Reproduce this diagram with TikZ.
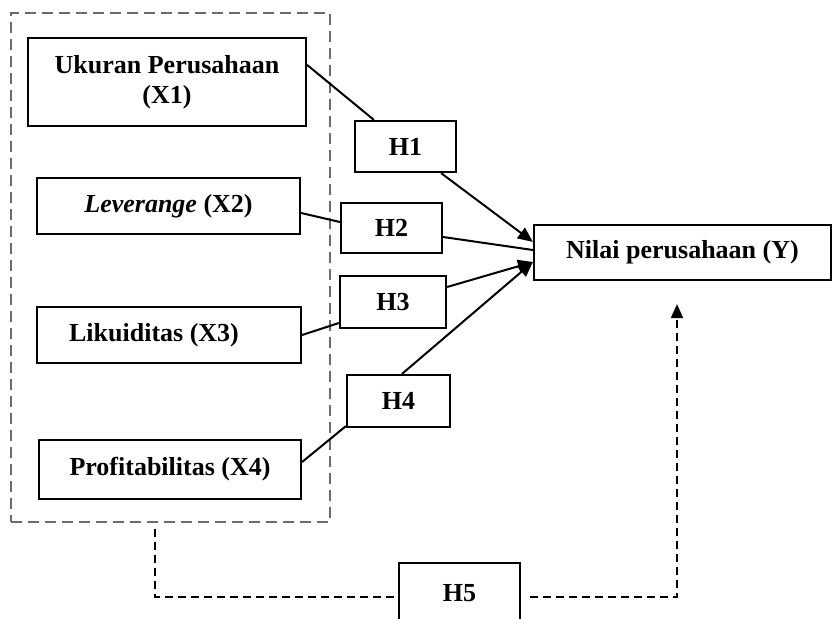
\documentclass[tikz,border=0pt]{standalone}
\usepackage{fontspec}
\setmainfont{Liberation Serif}
\usetikzlibrary{arrows.meta}
\begin{document}
\begin{tikzpicture}[x=1pt,y=-1pt,
  box/.style={draw=black,line width=2.2pt,inner sep=0pt,align=center,
    font=\fontsize{26}{30}\selectfont\bfseries},
  conn/.style={line width=2pt},
  arr/.style={line width=2pt,-{Triangle[length=15pt,width=13pt]}},
  grpbox/.style={draw=black!58,line width=1.9pt,dash pattern=on 11pt off 6pt,inner sep=0pt},
  blkdash/.style={line width=2pt,dash pattern=on 8pt off 5pt}]
\useasboundingbox (0,0) rectangle (834,618);
\clip (0,0) rectangle (834,618);
\node[grpbox,minimum width=319pt,minimum height=509pt] (grp) at (170.5,267.5) {};
\node[box,minimum width=278pt,minimum height=88pt] (X1) at (167,82) {Ukuran Perusahaan\\(X1)};
\node[box,minimum width=263pt,minimum height=56pt] (X2) at (168.5,206) {\textit{Leverange} (X2)};
\node[box,minimum width=264pt,minimum height=56pt] (X3) at (169,335) {Likuiditas (X3)\hspace{30pt}};
\node[box,minimum width=262pt,minimum height=59pt] (X4) at (170,469.5) {Profitabilitas (X4)};
\node[box,minimum width=101pt,minimum height=51pt] (H1) at (405.5,146.5) {H1};
\node[box,minimum width=101pt,minimum height=50pt] (H2) at (391.5,228) {H2};
\node[box,minimum width=106pt,minimum height=52pt] (H3) at (393,302) {H3};
\node[box,minimum width=103pt,minimum height=52pt] (H4) at (398.5,401) {H4};
\node[box,minimum width=121pt,minimum height=60pt] (H5) at (459.5,593) {H5};
\node[box,minimum width=297pt,minimum height=55pt] (Y) at (682.5,252.5) {Nilai perusahaan (Y)};
% connectors
\draw[conn] ([yshift=-28pt]X1.north east) -- ([xshift=20pt]H1.north west);
\draw[arr] ([xshift=-16pt]H1.south east) -- ([yshift=-18pt]Y.north west);
\draw[conn] ([yshift=-7pt]X2.east) -- ([yshift=6pt]H2.west);
\draw[conn] ([yshift=-9pt]H2.east) -- ([yshift=2.5pt]Y.west);
\draw[conn] (X3.east) -- ([yshift=-21pt]H3.west);
\draw[arr] ([yshift=15pt]H3.east) -- ([yshift=-9.5pt]Y.west);
\draw[conn] ([yshift=7.5pt]X4.east) -- ([yshift=2pt]H4.south west);
\draw[arr] ([xshift=3.5pt]H4.north) -- ([yshift=-9.5pt]Y.west);
% H5 dashed path
\draw[blkdash] ([xshift=-15.5pt,yshift=-6pt]grp.south) |- ([yshift=-4pt]H5.west);
\draw[blkdash,-{Triangle[length=14pt,width=12pt]}] ([xshift=9pt,yshift=-4pt]H5.east) -| ([xshift=-5.5pt,yshift=-23pt]Y.south);
\end{tikzpicture}
\end{document}
